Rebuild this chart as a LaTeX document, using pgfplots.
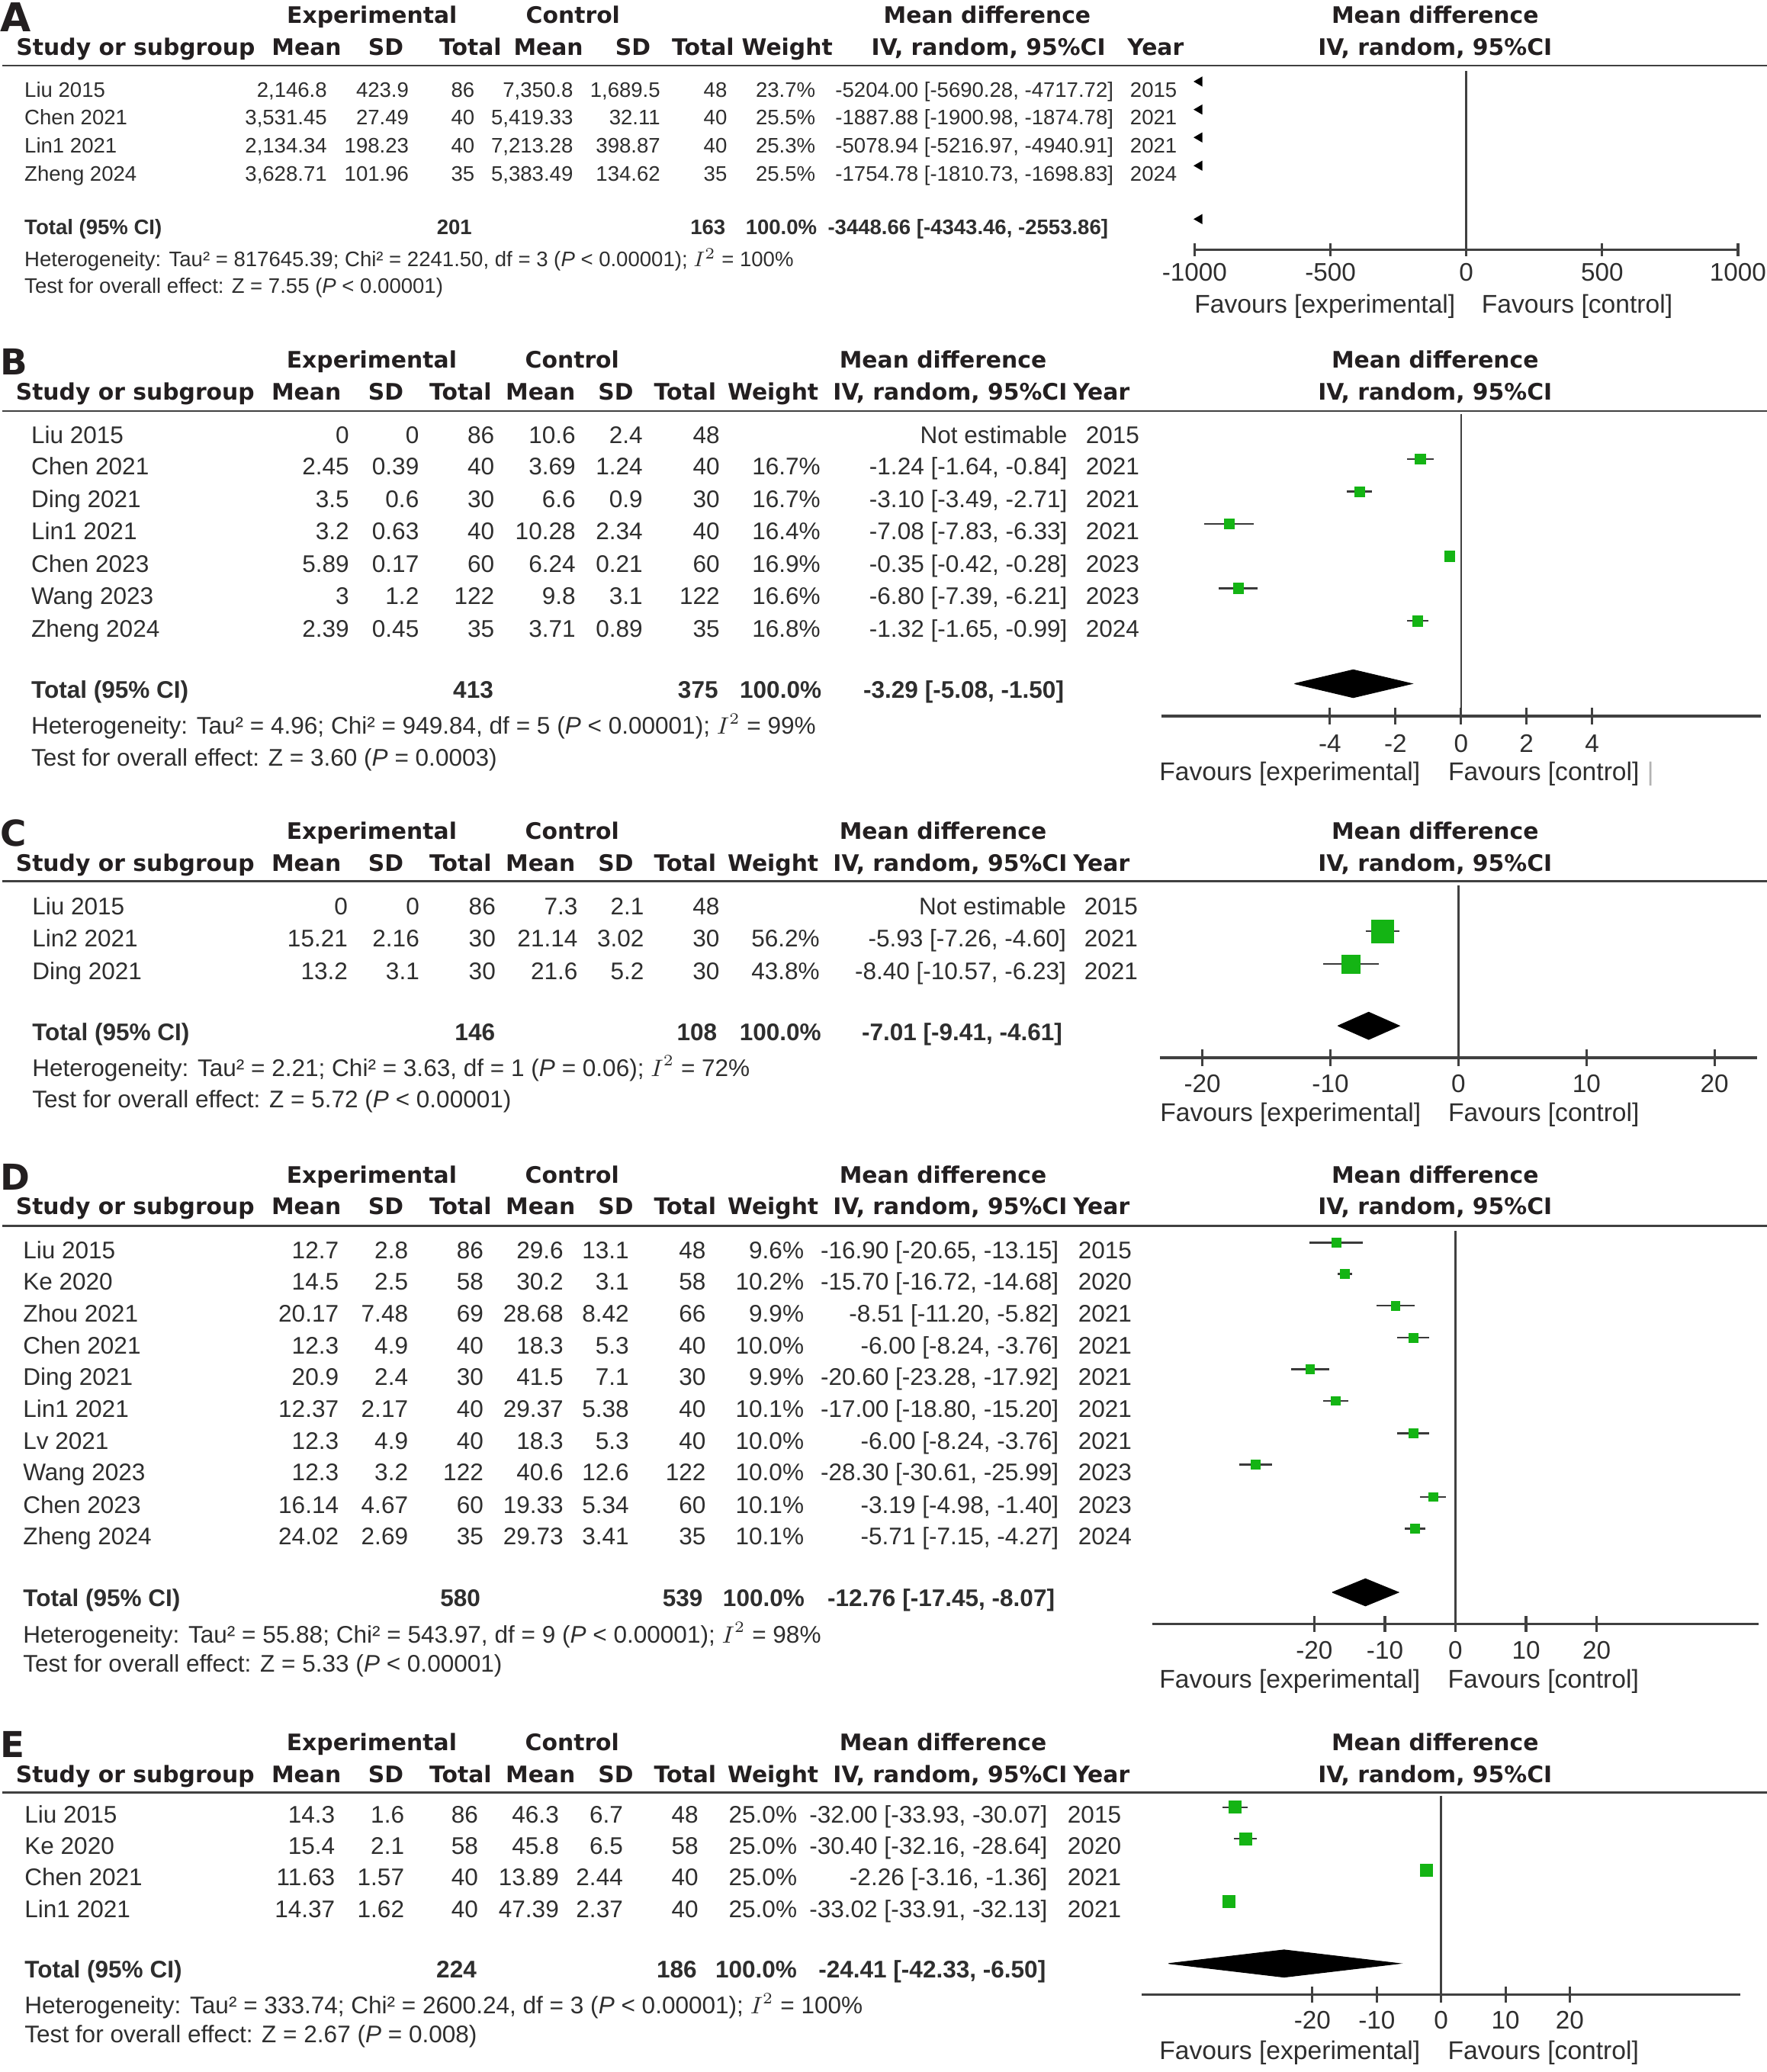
\documentclass[border=0pt]{standalone}
\usepackage{pgfplots}
\pgfplotsset{compat=1.18}
\usepackage{pgfplotstable}
\usepackage{fontspec}
\setmainfont{Liberation Sans}
\newfontfamily\hdfont{DejaVu Sans}

\definecolor{hdcol}{HTML}{231F20}
\definecolor{txcol}{HTML}{2E2E2E}
\definecolor{axcol}{HTML}{404040}
\definecolor{cicol}{HTML}{3A3A3A}
\definecolor{sqgreen}{HTML}{14B414}

\tikzset{
  hd/.style={font=\hdfont\bfseries\fontsize{8.6}{10}\selectfont, text=hdcol, inner sep=0pt, text height=6.27pt, text depth=0pt},
  bd/.style={font=\fontsize{9.1}{11}\selectfont, text=txcol, inner sep=0pt, text height=6.52pt, text depth=0pt},
  bdA/.style={font=\fontsize{7.95}{10}\selectfont, text=txcol, inner sep=0pt, text height=5.69pt, text depth=0pt},
  fav/.style={font=\fontsize{9.7}{11}\selectfont, text=txcol, inner sep=0pt, anchor=west, text height=6.95pt, text depth=0pt},
  lab/.style={font=\hdfont\bfseries\fontsize{13.5}{15}\selectfont, text=hdcol, inner sep=0pt, anchor=west, text height=9.8pt, text depth=0pt},
  hline/.style={draw=axcol, line width=0.8pt},
  cur/.style={bd},
}

\pgfplotsset{
  fp/.style={anchor=south west, scale only axis, clip=false, set layers,
    axis x line=bottom, axis y line=none, ytick=\empty,
    axis line style={-, draw=axcol, line width=1pt},
    tick align=center,
    tick style={draw=axcol, line width=0.9pt},
    xticklabel style={font=\fontsize{9.6}{11}\selectfont, text=txcol, inner sep=0pt, anchor=center, text height=6.87pt, text depth=0pt}},
  zero/.style={draw=axcol, line width=0.75pt, mark=none},
  ci/.style={draw=cicol, line width=0.7pt, mark=none, -,
    quiver={u=\thisrow{hi}-\thisrow{lo}, v=0}},
  sq/.style={on layer=axis foreground, only marks, mark=square*, mark options={fill=sqgreen, draw=sqgreen, line width=0.2pt}},
  dia/.style={fill=black, draw=black, line width=0.3pt, mark=none},
}

% forest plot data: y position, mean difference, lower and upper 95% CI
\pgfplotstableread{
y md lo hi
-347.5 -1.24 -1.64 -0.84
-372.1 -3.10 -3.49 -2.71
-396.4 -7.08 -7.83 -6.33
-421.0 -0.35 -0.42 -0.28
-445.2 -6.80 -7.39 -6.21
-469.9 -1.32 -1.65 -0.99
}\tabB
\pgfplotstableread{
y md lo hi
-704.8 -5.93 -7.26 -4.60
-729.6 -8.40 -10.57 -6.23
}\tabC
\pgfplotstableread{
y md lo hi
-940.3 -16.90 -20.65 -13.15
-964.0 -15.70 -16.72 -14.68
-988.0 -8.51 -11.20 -5.82
-1012.3 -6.00 -8.24 -3.76
-1036.1 -20.60 -23.28 -17.92
-1060.1 -17.00 -18.80 -15.20
-1084.6 -6.00 -8.24 -3.76
-1108.3 -28.30 -30.61 -25.99
-1132.8 -3.19 -4.98 -1.40
-1156.7 -5.71 -7.15 -4.27
}\tabD
\pgfplotstableread{
y md lo hi
-1367.6 -32.00 -33.93 -30.07
-1391.4 -30.40 -32.16 -28.64
-1415.1 -2.26 -3.16 -1.36
-1439.1 -33.02 -33.91 -32.13
}\tabE

\newcommand\cols[9]{\def\xS{#1}\def\xMa{#2}\def\xSa{#3}\def\xNa{#4}\def\xMb{#5}\def\xSb{#6}\def\xNb{#7}\def\xW{#8}\def\xMD{#9}}
\newcommand\srow[9]{%
  \node[cur,anchor=west] at (\xS,#1) {#2};
  \node[cur,anchor=east] at (\xMa,#1) {#3};
  \node[cur,anchor=east] at (\xSa,#1) {#4};
  \node[cur,anchor=east] at (\xNa,#1) {#5};
  \node[cur,anchor=east] at (\xMb,#1) {#6};
  \node[cur,anchor=east] at (\xSb,#1) {#7};
  \node[cur,anchor=east] at (\xNb,#1) {#8};
  \node[cur,anchor=east] at (\xW,#1) {#9};}
\newcommand\mdrow[3]{%
  \node[cur,anchor=east] at (\xMD,#1) {#2};
  \node[cur,anchor=east] at (\xYr,#1) {#3};}

\newcommand\hdrBE[4]{%
  \node[lab] at (0,#1+1.5) {#4};
  \node[hd] at (281.3,#1) {Experimental};
  \node[hd] at (433,#1) {Control};
  \node[hd] at (713.6,#1) {Mean difference};
  \node[hd] at (1086,#1) {Mean difference};
  \node[hd,anchor=west] at (11.6,#2) {Study or subgroup};
  \node[hd] at (231.8,#2) {Mean};
  \node[hd] at (292,#2) {SD};
  \node[hd] at (348.5,#2) {Total};
  \node[hd] at (409,#2) {Mean};
  \node[hd] at (466,#2) {SD};
  \node[hd] at (518.5,#2) {Total};
  \node[hd] at (585,#2) {Weight};
  \node[hd] at (719,#2) {IV, random, 95\%CI};
  \node[hd] at (833.5,#2) {Year};
  \node[hd] at (1086,#2) {IV, random, 95\%CI};
  \draw[hline] (2,#3) -- (1337,#3);}

\begin{document}
\begin{tikzpicture}
\begin{scope}[x=0.5pt,y=-0.5pt]
\useasboundingbox (0,0) rectangle (1337,1568);

% ---------------- A ----------------
\node[lab,font=\hdfont\bfseries\fontsize{15}{17}\selectfont,text height=11pt] at (0,12.7) {A};
\node[hd] at (281.5,11.2) {Experimental};
\node[hd] at (433.6,11.2) {Control};
\node[hd] at (747,11.2) {Mean difference};
\node[hd] at (1086,11.2) {Mean difference};
\node[hd,anchor=west] at (12,35.6) {Study or subgroup};
\node[hd] at (232,35.6) {Mean};
\node[hd] at (292,35.6) {SD};
\node[hd] at (356,35.6) {Total};
\node[hd] at (415,35.6) {Mean};
\node[hd] at (479,35.6) {SD};
\node[hd] at (532,35.6) {Total};
\node[hd] at (595.7,35.6) {Weight};
\node[hd] at (748,35.6) {IV, random, 95\%CI};
\node[hd] at (874.5,35.6) {Year};
\node[hd] at (1086,35.6) {IV, random, 95\%CI};
\draw[hline] (2,49.6) -- (1337,49.6);

\tikzset{cur/.style={bdA}}
\cols{18.2}{247.8}{309.7}{359.5}{434}{500}{550.6}{617.4}{843}\def\xYr{891}
\srow{67.7}{Liu 2015}{2,146.8}{423.9}{86}{7,350.8}{1,689.5}{48}{23.7\%}
\mdrow{67.7}{-5204.00 [-5690.28, -4717.72]}{2015}
\srow{88.9}{Chen 2021}{3,531.45}{27.49}{40}{5,419.33}{32.11}{40}{25.5\%}
\mdrow{88.9}{-1887.88 [-1900.98, -1874.78]}{2021}
\srow{110}{Lin1 2021}{2,134.34}{198.23}{40}{7,213.28}{398.87}{40}{25.3\%}
\mdrow{110}{-5078.94 [-5216.97, -4940.91]}{2021}
\srow{131.4}{Zheng 2024}{3,628.71}{101.96}{35}{5,383.49}{134.62}{35}{25.5\%}
\mdrow{131.4}{-1754.78 [-1810.73, -1698.83]}{2024}
\node[cur,anchor=west] at (18.2,171.8) {\bfseries Total (95\% CI)};
\node[cur,anchor=east] at (357.5,171.8) {\bfseries 201};
\node[cur,anchor=east] at (549.4,171.8) {\bfseries 163};
\node[cur,anchor=east] at (618.6,171.8) {\bfseries 100.0\%};
\node[cur,anchor=east] at (839,171.8) {\bfseries -3448.66 [-4343.46, -2553.86]};
\node[cur,anchor=west] at (18.2,196) {Heterogeneity: Tau² = 817645.39; Chi² = 2241.50, df = 3 (\textit{P} < 0.00001); $I^{2}$ = 100\%};
\node[cur,anchor=west] at (18.2,216.4) {Test for overall effect: Z = 7.55 (\textit{P} < 0.00001)};
\node[fav] at (903.6,229.9) {Favours [experimental]};
\node[fav] at (1120.8,229.9) {Favours [control]};

% ---------------- B ----------------
\hdrBE{272.2}{296.4}{311}{B}
\tikzset{cur/.style={bd}}
\cols{23.3}{264.5}{317.4}{374.5}{435.9}{486.7}{545}{621.2}{808}\def\xYr{862.6}
\srow{328.9}{Liu 2015}{0}{0}{86}{10.6}{2.4}{48}{}
\mdrow{328.9}{Not estimable}{2015}
\srow{353}{Chen 2021}{2.45}{0.39}{40}{3.69}{1.24}{40}{16.7\%}
\mdrow{353}{-1.24 [-1.64, -0.84]}{2021}
\srow{377.6}{Ding 2021}{3.5}{0.6}{30}{6.6}{0.9}{30}{16.7\%}
\mdrow{377.6}{-3.10 [-3.49, -2.71]}{2021}
\srow{401.9}{Lin1 2021}{3.2}{0.63}{40}{10.28}{2.34}{40}{16.4\%}
\mdrow{401.9}{-7.08 [-7.83, -6.33]}{2021}
\srow{426.5}{Chen 2023}{5.89}{0.17}{60}{6.24}{0.21}{60}{16.9\%}
\mdrow{426.5}{-0.35 [-0.42, -0.28]}{2023}
\srow{450.7}{Wang 2023}{3}{1.2}{122}{9.8}{3.1}{122}{16.6\%}
\mdrow{450.7}{-6.80 [-7.39, -6.21]}{2023}
\srow{475.4}{Zheng 2024}{2.39}{0.45}{35}{3.71}{0.89}{35}{16.8\%}
\mdrow{475.4}{-1.32 [-1.65, -0.99]}{2024}
\node[cur,anchor=west] at (23.3,522) {\bfseries Total (95\% CI)};
\node[cur,anchor=east] at (373.7,522) {\bfseries 413};
\node[cur,anchor=east] at (543.8,522) {\bfseries 375};
\node[cur,anchor=east] at (622,522) {\bfseries 100.0\%};
\node[cur,anchor=east] at (805.5,522) {\bfseries -3.29 [-5.08, -1.50]};
\node[cur,anchor=west] at (23.3,549.2) {Heterogeneity: Tau² = 4.96; Chi² = 949.84, df = 5 (\textit{P} < 0.00001); $I^{2}$ = 99\%};
\node[cur,anchor=west] at (23.3,573.4) {Test for overall effect: Z = 3.60 (\textit{P} = 0.0003)};
\node[fav] at (877,583.8) {Favours [experimental]};
\node[fav] at (1095.6,583.8) {Favours [control]};
\node[fav,text=black!30] at (1246,583.8) {|};

% ---------------- C ----------------
\hdrBE{629}{653}{667}{C}
\cols{24}{263.5}{317.7}{375.4}{437.5}{487.7}{544.8}{620.6}{807.2}\def\xYr{861.4}
\srow{685.7}{Liu 2015}{0}{0}{86}{7.3}{2.1}{48}{}
\mdrow{685.7}{Not estimable}{2015}
\srow{709.8}{Lin2 2021}{15.21}{2.16}{30}{21.14}{3.02}{30}{56.2\%}
\mdrow{709.8}{-5.93 [-7.26, -4.60]}{2021}
\srow{734.8}{Ding 2021}{13.2}{3.1}{30}{21.6}{5.2}{30}{43.8\%}
\mdrow{734.8}{-8.40 [-10.57, -6.23]}{2021}
\node[cur,anchor=west] at (24,781) {\bfseries Total (95\% CI)};
\node[cur,anchor=east] at (375,781) {\bfseries 146};
\node[cur,anchor=east] at (543,781) {\bfseries 108};
\node[cur,anchor=east] at (621.8,781) {\bfseries 100.0\%};
\node[cur,anchor=east] at (804.3,781) {\bfseries -7.01 [-9.41, -4.61]};
\node[cur,anchor=west] at (24,807.8) {Heterogeneity: Tau² = 2.21; Chi² = 3.63, df = 1 (\textit{P} = 0.06); $I^{2}$ = 72\%};
\node[cur,anchor=west] at (24,831.9) {Test for overall effect: Z = 5.72 (\textit{P} < 0.00001)};
\node[fav] at (877.6,841.4) {Favours [experimental]};
\node[fav] at (1095.6,841.4) {Favours [control]};

% ---------------- D ----------------
\hdrBE{889.3}{912.5}{927.5}{D}
\cols{17.1}{256.7}{309.2}{366.2}{426.7}{476.3}{534.5}{608.7}{801.5}\def\xYr{856.8}
\srow{946}{Liu 2015}{12.7}{2.8}{86}{29.6}{13.1}{48}{9.6\%}
\mdrow{946}{-16.90 [-20.65, -13.15]}{2015}
\srow{969.7}{Ke 2020}{14.5}{2.5}{58}{30.2}{3.1}{58}{10.2\%}
\mdrow{969.7}{-15.70 [-16.72, -14.68]}{2020}
\srow{993.7}{Zhou 2021}{20.17}{7.48}{69}{28.68}{8.42}{66}{9.9\%}
\mdrow{993.7}{-8.51 [-11.20, -5.82]}{2021}
\srow{1018}{Chen 2021}{12.3}{4.9}{40}{18.3}{5.3}{40}{10.0\%}
\mdrow{1018}{-6.00 [-8.24, -3.76]}{2021}
\srow{1041.8}{Ding 2021}{20.9}{2.4}{30}{41.5}{7.1}{30}{9.9\%}
\mdrow{1041.8}{-20.60 [-23.28, -17.92]}{2021}
\srow{1065.8}{Lin1 2021}{12.37}{2.17}{40}{29.37}{5.38}{40}{10.1\%}
\mdrow{1065.8}{-17.00 [-18.80, -15.20]}{2021}
\srow{1090.3}{Lv 2021}{12.3}{4.9}{40}{18.3}{5.3}{40}{10.0\%}
\mdrow{1090.3}{-6.00 [-8.24, -3.76]}{2021}
\srow{1114}{Wang 2023}{12.3}{3.2}{122}{40.6}{12.6}{122}{10.0\%}
\mdrow{1114}{-28.30 [-30.61, -25.99]}{2023}
\srow{1138.5}{Chen 2023}{16.14}{4.67}{60}{19.33}{5.34}{60}{10.1\%}
\mdrow{1138.5}{-3.19 [-4.98, -1.40]}{2023}
\srow{1162.4}{Zheng 2024}{24.02}{2.69}{35}{29.73}{3.41}{35}{10.1\%}
\mdrow{1162.4}{-5.71 [-7.15, -4.27]}{2024}
\node[cur,anchor=west] at (17.1,1209.3) {\bfseries Total (95\% CI)};
\node[cur,anchor=east] at (364,1209.3) {\bfseries 580};
\node[cur,anchor=east] at (532.2,1209.3) {\bfseries 539};
\node[cur,anchor=east] at (609.2,1209.3) {\bfseries 100.0\%};
\node[cur,anchor=east] at (798.6,1209.3) {\bfseries -12.76 [-17.45, -8.07]};
\node[cur,anchor=west] at (17.1,1236.6) {Heterogeneity: Tau² = 55.88; Chi² = 543.97, df = 9 (\textit{P} < 0.00001); $I^{2}$ = 98\%};
\node[cur,anchor=west] at (17.1,1259) {Test for overall effect: Z = 5.33 (\textit{P} < 0.00001)};
\node[fav] at (877,1270.7) {Favours [experimental]};
\node[fav] at (1095.3,1270.7) {Favours [control]};

% ---------------- E ----------------
\hdrBE{1318.5}{1342.6}{1356.6}{E}
\cols{18.3}{253.9}{306.3}{362.2}{423.3}{471.8}{528.8}{603.5}{793}\def\xYr{848.8}
\srow{1373}{Liu 2015}{14.3}{1.6}{86}{46.3}{6.7}{48}{25.0\%}
\mdrow{1373}{-32.00 [-33.93, -30.07]}{2015}
\srow{1396.8}{Ke 2020}{15.4}{2.1}{58}{45.8}{6.5}{58}{25.0\%}
\mdrow{1396.8}{-30.40 [-32.16, -28.64]}{2020}
\srow{1420.5}{Chen 2021}{11.63}{1.57}{40}{13.89}{2.44}{40}{25.0\%}
\mdrow{1420.5}{-2.26 [-3.16, -1.36]}{2021}
\srow{1444.5}{Lin1 2021}{14.37}{1.62}{40}{47.39}{2.37}{40}{25.0\%}
\mdrow{1444.5}{-33.02 [-33.91, -32.13]}{2021}
\node[cur,anchor=west] at (18.3,1490.3) {\bfseries Total (95\% CI)};
\node[cur,anchor=east] at (361,1490.3) {\bfseries 224};
\node[cur,anchor=east] at (527.7,1490.3) {\bfseries 186};
\node[cur,anchor=east] at (603.5,1490.3) {\bfseries 100.0\%};
\node[cur,anchor=east] at (791.8,1490.3) {\bfseries -24.41 [-42.33, -6.50]};
\node[cur,anchor=west] at (18.3,1517.2) {Heterogeneity: Tau² = 333.74; Chi² = 2600.24, df = 3 (\textit{P} < 0.00001); $I^{2}$ = 100\%};
\node[cur,anchor=west] at (18.3,1539) {Test for overall effect: Z = 2.67 (\textit{P} = 0.008)};
\node[fav] at (877,1551.3) {Favours [experimental]};
\node[fav] at (1095.3,1551.3) {Favours [control]};
\end{scope}

% ---------------- forest plots ----------------
\begin{axis}[fp, at={(452pt,-94.5pt)}, width=205.6pt, height=67.6pt,
  xmin=-1000, xmax=1000, ymin=-189, ymax=-53.8,
  xtick={-1000,-500,0,500,1000}, xticklabels={-1000,-500,0,500,1000},
  major tick length=4.8pt, xticklabel style={yshift=-6pt}]
\addplot[zero] coordinates {(0,-53.8) (0,-189)};
\addplot[only marks, mark=triangle*, mark size=1.8pt, mark options={rotate=90, fill=black, draw=black}]
  coordinates {(-982.5,-61.7) (-982.5,-82.9) (-982.5,-104) (-982.5,-125.4) (-982.5,-165.8)};
\end{axis}

\begin{axis}[fp, at={(439.35pt,-271pt)}, width=226.9pt, height=114.25pt,
  xmin=-9.15, xmax=9.15, ymin=-542, ymax=-313.5,
  xtick={-4,-2,0,2,4}, xticklabels={-4,-2,0,2,4},
  major tick length=6.2pt, xticklabel style={yshift=-7.1pt}]
\addplot[zero] coordinates {(0,-313.5) (0,-542)};
\addplot[ci] table[x=lo, y=y] {\tabB};
\addplot[sq, mark size=1.93pt] table[x=md, y=y] {\tabB};
\addplot[dia] coordinates {(-5.08,-517.4) (-3.29,-506.9) (-1.50,-517.4) (-3.29,-527.9) (-5.08,-517.4)};
\end{axis}

\begin{axis}[fp, at={(438.95pt,-400.25pt)}, width=225.75pt, height=65.25pt,
  xmin=-23.3, xmax=23.3, ymin=-800.5, ymax=-670,
  xtick={-20,-10,0,10,20}, xticklabels={-20,-10,0,10,20},
  major tick length=6.2pt, xticklabel style={yshift=-6.65pt}]
\addplot[zero] coordinates {(0,-670) (0,-800.5)};
\addplot[ci] table[x=lo, y=y] {\tabC};
\addplot[sq, mark size=4.25pt] coordinates {(-5.93,-704.8)};
\addplot[sq, mark size=3.5pt] coordinates {(-8.40,-729.6)};
\addplot[dia] coordinates {(-9.41,-776.3) (-7.01,-766) (-4.61,-776.3) (-7.01,-786.6) (-9.41,-776.3)};
\end{axis}

\begin{axis}[fp, at={(435.9pt,-614.45pt)}, width=229.6pt, height=148.65pt,
  xmin=-43, xmax=43, ymin=-1228.9, ymax=-931.6,
  xtick={-20,-10,0,10,20}, xticklabels={-20,-10,0,10,20},
  major tick length=6pt, xticklabel style={yshift=-6.75pt}]
\addplot[zero] coordinates {(0,-931.6) (0,-1228.9)};
\addplot[ci] table[x=lo, y=y] {\tabD};
\addplot[sq, mark size=1.7pt] table[x=md, y=y] {\tabD};
\addplot[dia] coordinates {(-17.45,-1205) (-12.76,-1194.75) (-8.07,-1205) (-12.76,-1215.25) (-17.45,-1205)};
\end{axis}

\begin{axis}[fp, at={(432.05pt,-754.75pt)}, width=226.45pt, height=75.3pt,
  xmin=-46.5, xmax=46.5, ymin=-1509.5, ymax=-1358.9,
  xtick={-20,-10,0,10,20}, xticklabels={-20,-10,0,10,20},
  major tick length=6pt, xticklabel style={yshift=-6.45pt}]
\addplot[zero] coordinates {(0,-1358.9) (0,-1509.5)};
\addplot[ci] table[x=lo, y=y] {\tabE};
\addplot[sq, mark size=2.3pt] table[x=md, y=y] {\tabE};
\addplot[dia] coordinates {(-42.33,-1485.9) (-24.41,-1475.6) (-6.50,-1485.9) (-24.41,-1496.2) (-42.33,-1485.9)};
\end{axis}
\end{tikzpicture}
\end{document}
